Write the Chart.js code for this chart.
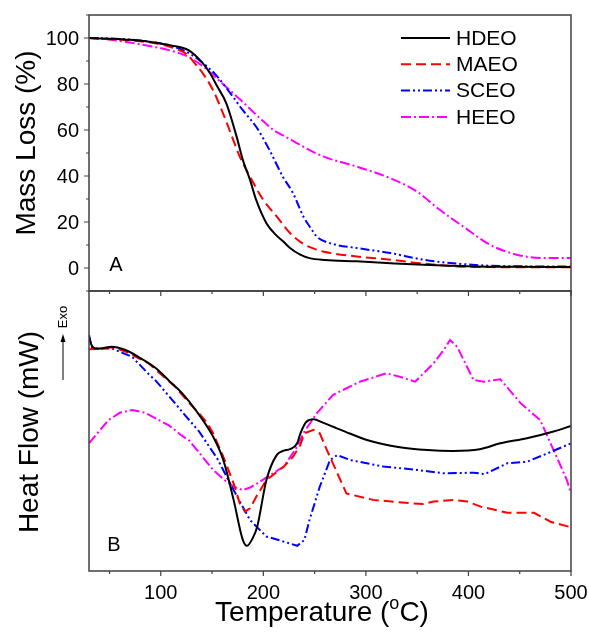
<!DOCTYPE html>
<html>
<head>
<meta charset="utf-8">
<script src="https://cdn.jsdelivr.net/npm/chart.js@4.4.1/dist/chart.umd.min.js"></script>
<style>
  html, body { margin: 0; padding: 0; background: #fff; }
  #wrap { position: relative; width: 589px; height: 634px; }
  #topChart { position: absolute; left: 0; top: 0; z-index: 2; }
  #botChart { position: absolute; left: 0; top: 290px; z-index: 1; }
</style>
</head>
<body>
<div id="wrap">
  <canvas id="topChart" width="589" height="298"></canvas>
  <canvas id="botChart" width="589" height="344"></canvas>
</div>
<script>
// series names
const names = ['HDEO', 'MAEO', 'SCEO', 'HEEO'];

// tick labels
const massTicks = [0, 20, 40, 60, 80, 100];
const tempTicks = [100, 200, 300, 400, 500];

// A: mass loss (%) vs temperature
const hdeoTgT = [30, 50, 70, 90, 110, 127, 140, 148, 155, 164, 174, 180, 187, 193, 203, 212, 220, 226, 236, 245, 260, 291, 320, 356, 405, 450, 500];
const hdeoTg  = [100, 99.7, 99.2, 98.3, 96.8, 94.7, 89.5, 84.7, 79, 71.5, 57, 47, 38.3, 29.6, 19.5, 14.5, 11.3, 8.7, 5.8, 4.3, 3.5, 2.9, 2.2, 1.4, 0.7, 0.5, 0.4];
const maeoTgT = [30, 50, 70, 90, 110, 125, 135, 141, 151, 160, 167, 177, 187, 200, 213, 226, 239, 250, 258, 291, 324, 356, 389, 421, 460, 500];
const maeoTg  = [100, 99.5, 99, 98, 96, 93, 88, 84.6, 77.3, 68, 60, 48.4, 39.7, 29.6, 22.4, 15.2, 10.5, 8.3, 7.2, 5.0, 3.6, 1.9, 0.7, 0.4, 0.3, 0.3];
const sceoTgT = [30, 50, 70, 90, 110, 125, 140, 153, 161, 167, 180, 193, 206, 219, 229, 239, 246, 252, 265, 291, 324, 356, 389, 421, 454, 500];
const sceoTg  = [100, 99.8, 99.3, 98.3, 96.5, 94, 89.5, 84.3, 80, 76.5, 68.6, 61.4, 51.3, 39.7, 32.5, 22.4, 17.5, 13.7, 10.8, 8.7, 6.5, 3.6, 1.9, 1.0, 0.7, 0.6];
const heeoTgT = [30, 50, 70, 95, 110, 127, 144, 160, 178, 197, 210, 226, 242, 259, 291, 324, 350, 372, 395, 421, 447, 473, 500];
const heeoTg  = [100, 99.3, 98, 96, 94.5, 91.8, 86.7, 80.2, 73, 65, 60, 56, 52, 48.4, 44.1, 39, 33.2, 25.3, 18, 10.1, 5.8, 4.3, 4.3];

// B: heat flow (arbitrary units, exo up) vs temperature
const hdeoHfT = [30, 32, 36, 42, 52, 65, 78, 95, 108, 122, 134, 151, 161, 171, 180, 184, 190, 194, 203, 213, 220, 226, 233, 236, 242, 249, 258, 268, 285, 301, 333, 360, 385, 411, 431, 457, 483, 500];
const hdeoHf  = [83.7, 81, 79.5, 79.5, 80.1, 79, 76.5, 72.5, 68, 63, 57.5, 48, 39.6, 25.4, 11.1, 9.0, 12, 15.8, 32.5, 41.4, 43, 43.5, 45.6, 49, 53.3, 54.2, 53, 51.5, 49, 46.8, 44.2, 43.2, 42.9, 43.5, 45.6, 47.4, 49.8, 51.8];
const maeoHfT = [30, 40, 52, 65, 88, 114, 128, 138, 145, 151, 161, 171, 177, 182, 187, 194, 203, 220, 229, 236, 240, 249, 255, 262, 281, 307, 343, 356, 366, 386, 399, 412, 438, 464, 480, 500];
const maeoHf  = [79.2, 79.3, 79.9, 78.5, 74.2, 65.8, 59.9, 56, 53, 49.2, 40.8, 31.3, 24.2, 21.2, 22.4, 27.1, 32.5, 37.3, 40.8, 45, 49.2, 50.4, 49.2, 43.2, 27.7, 25.4, 24.2, 23.9, 24.8, 25.4, 24.8, 23, 20.8, 20.8, 17.6, 15.6];
const sceoHfT = [30, 33, 40, 52, 72, 89, 95, 114, 122, 137, 155, 171, 187, 203, 220, 233, 240, 245, 255, 265, 272, 285, 317, 350, 376, 405, 416, 438, 457, 477, 500];
const sceoHf  = [84.3, 79.5, 79.5, 79.5, 76.5, 70, 68, 59.9, 56.3, 50, 40.2, 28.9, 18.2, 12.3, 10.5, 9.0, 11.1, 18.2, 30.1, 39.6, 41.4, 39.6, 37.3, 36.1, 34.9, 35.1, 34.6, 38.5, 39, 42, 45.6];
const heeoHfT = [30, 40, 49, 60, 72, 85, 95, 108, 120, 128, 138, 151, 164, 172, 180, 187, 194, 207, 220, 233, 239, 252, 268, 294, 320, 333, 348, 366, 376, 382, 389, 405, 415, 431, 451, 470, 483, 496, 500];
const heeoHf  = [45.6, 50, 53.9, 56.5, 57.5, 56.5, 54.5, 52, 48.5, 46.5, 42, 36.1, 31.9, 30, 28.9, 29.8, 31.3, 34.3, 37.3, 44.4, 49.2, 56.3, 62.9, 67.6, 70.6, 69.4, 67.6, 74.2, 79, 82.5, 80.1, 68.2, 67.6, 68.5, 59.9, 53.9, 43.2, 32.5, 27.7];

const FONT = '"Liberation Sans", Arial, sans-serif';
const styles = [
  { borderColor: '#000000', borderDash: [] },
  { borderColor: '#ff0000', borderDash: [10, 5] },
  { borderColor: '#0000ff', borderDash: [9, 3, 2, 3, 2, 3] },
  { borderColor: '#ff00ff', borderDash: [10, 3, 2, 3] }
];

function pts(xs, ys) {
  return xs.map((x, i) => ({ x: x, y: ys[i] }));
}

function makeSets(pairs, smoothAll) {
  return pairs.map((p, i) => ({
    label: names[i],
    data: pts(p[0], p[1]),
    borderColor: styles[i].borderColor,
    borderDash: styles[i].borderDash,
    borderWidth: 2,
    pointRadius: 0,
    fill: false,
    cubicInterpolationMode: (smoothAll || i === 0) ? 'monotone' : 'default',
    tension: 0
  }));
}

// frame, tick marks and tick labels, all placed with the chart's scales
const framePlugin = {
  id: 'frame',
  afterDatasetsDraw(chart, args, opts) {
    const { ctx, chartArea: a, scales } = chart;
    ctx.save();
    ctx.strokeStyle = '#404040';
    ctx.lineWidth = 1.5;
    ctx.setLineDash([]);
    ctx.strokeRect(a.left, a.top, a.right - a.left, a.bottom - a.top);
    ctx.lineWidth = 1.2;
    ctx.beginPath();
    for (let v = 50; v <= 500; v += 50) {
      const x = scales.x.getPixelForValue(v);
      const len = v % 100 === 0 ? 5 : 3;
      ctx.moveTo(x, a.bottom);
      ctx.lineTo(x, a.bottom + len);
    }
    if (opts.yLabels) {
      for (let v = -10; v <= 110; v += 10) {
        const y = scales.y.getPixelForValue(v);
        const len = v % 20 === 0 ? 5 : 3;
        ctx.moveTo(a.left, y);
        ctx.lineTo(a.left - len, y);
      }
    }
    ctx.stroke();
    ctx.fillStyle = '#000';
    ctx.font = '20px ' + FONT;
    ctx.textBaseline = 'middle';
    if (opts.yLabels) {
      ctx.textAlign = 'right';
      opts.yLabels.forEach(v => ctx.fillText(String(v), a.left - 10, scales.y.getPixelForValue(v) + 1));
    }
    if (opts.xLabels) {
      ctx.textAlign = 'center';
      opts.xLabels.forEach(v => ctx.fillText(String(v), scales.x.getPixelForValue(v), a.bottom + 22));
    }
    ctx.restore();
  }
};

function rotText(ctx, text, x, y, font) {
  ctx.save();
  ctx.translate(x, y);
  ctx.rotate(-Math.PI / 2);
  ctx.font = font;
  ctx.textAlign = 'center';
  ctx.textBaseline = 'middle';
  ctx.fillText(text, 0, 0);
  ctx.restore();
}

const topExtras = {
  id: 'topExtras',
  afterDraw(chart) {
    const ctx = chart.ctx;
    ctx.save();
    ctx.fillStyle = '#000';
    rotText(ctx, 'Mass Loss (%)', 27, 143, '28px ' + FONT);
    ctx.font = '20px ' + FONT;
    ctx.textAlign = 'center';
    ctx.textBaseline = 'middle';
    ctx.fillText('A', 116, 265);
    // legend
    chart.data.datasets.forEach((ds, i) => {
      const y = 38 + i * 26.3;
      ctx.strokeStyle = ds.borderColor;
      ctx.lineWidth = 2;
      ctx.setLineDash(ds.borderDash);
      ctx.beginPath();
      ctx.moveTo(401, y);
      ctx.lineTo(450, y);
      ctx.stroke();
      ctx.setLineDash([]);
      ctx.font = '21px ' + FONT;
      ctx.textAlign = 'left';
      ctx.fillText(ds.label, 456, y + 1);
    });
    ctx.restore();
  }
};

const botExtras = {
  id: 'botExtras',
  afterDraw(chart) {
    const ctx = chart.ctx;
    const off = 290;
    ctx.save();
    ctx.fillStyle = '#000';
    ctx.strokeStyle = '#000';
    rotText(ctx, 'Heat Flow (mW)', 30, 432 - off, '28px ' + FONT);
    rotText(ctx, 'Exo', 63, 317 - off, '13px ' + FONT);
    // arrow
    ctx.lineWidth = 1;
    ctx.beginPath();
    ctx.moveTo(63, 380 - off);
    ctx.lineTo(63, 340 - off);
    ctx.stroke();
    ctx.beginPath();
    ctx.moveTo(63, 334 - off);
    ctx.lineTo(60.5, 342 - off);
    ctx.lineTo(65.5, 342 - off);
    ctx.closePath();
    ctx.fill();
    ctx.font = '20px ' + FONT;
    ctx.textAlign = 'center';
    ctx.textBaseline = 'middle';
    ctx.fillText('B', 114, 545 - off);
    // x title with superscript
    const big = '28px ' + FONT, small = '18px ' + FONT;
    ctx.font = big;
    const w1 = ctx.measureText('Temperature (').width;
    const w3 = ctx.measureText('C)').width;
    ctx.font = small;
    const w2 = ctx.measureText('o').width;
    let x = 322 - (w1 + w2 + w3) / 2;
    const cy = 613 - off;
    ctx.textAlign = 'left';
    ctx.font = big;
    ctx.fillText('Temperature (', x, cy);
    x += w1;
    ctx.font = small;
    ctx.fillText('o', x, cy - 9);
    x += w2;
    ctx.font = big;
    ctx.fillText('C)', x, cy);
    ctx.restore();
  }
};

const hiddenAxis = {
  grid: { display: false, drawTicks: false },
  border: { display: false },
  ticks: { display: false }
};

const topChart = new Chart(document.getElementById('topChart'), {
  type: 'line',
  data: {
    datasets: makeSets([[hdeoTgT, hdeoTg], [maeoTgT, maeoTg], [sceoTgT, sceoTg], [heeoTgT, heeoTg]], true)
  },
  options: {
    responsive: false,
    animation: false,
    devicePixelRatio: 1,
    layout: { padding: { left: 0, right: 18, top: 15, bottom: 0 } },
    plugins: { legend: { display: false }, tooltip: { enabled: false }, frame: { yLabels: massTicks } },
    scales: {
      x: Object.assign({ type: 'linear', min: 30, max: 500, afterFit: s => { s.height = 7; } }, hiddenAxis),
      y: Object.assign({ min: -10, max: 110, afterFit: s => { s.width = 89; } }, hiddenAxis)
    }
  },
  plugins: [framePlugin, topExtras]
});

const botChart = new Chart(document.getElementById('botChart'), {
  type: 'line',
  data: {
    datasets: makeSets([[hdeoHfT, hdeoHf], [maeoHfT, maeoHf], [sceoHfT, sceoHf], [heeoHfT, heeoHf]], false)
  },
  options: {
    responsive: false,
    animation: false,
    devicePixelRatio: 1,
    layout: { padding: { left: 0, right: 18, top: 1, bottom: 0 } },
    plugins: { legend: { display: false }, tooltip: { enabled: false }, frame: { xLabels: tempTicks } },
    scales: {
      x: Object.assign({ type: 'linear', min: 30, max: 500, afterFit: s => { s.height = 63; } }, hiddenAxis),
      y: Object.assign({ min: 0, max: 100, afterFit: s => { s.width = 89; } }, hiddenAxis)
    }
  },
  plugins: [framePlugin, botExtras]
});
</script>
</body>
</html>
